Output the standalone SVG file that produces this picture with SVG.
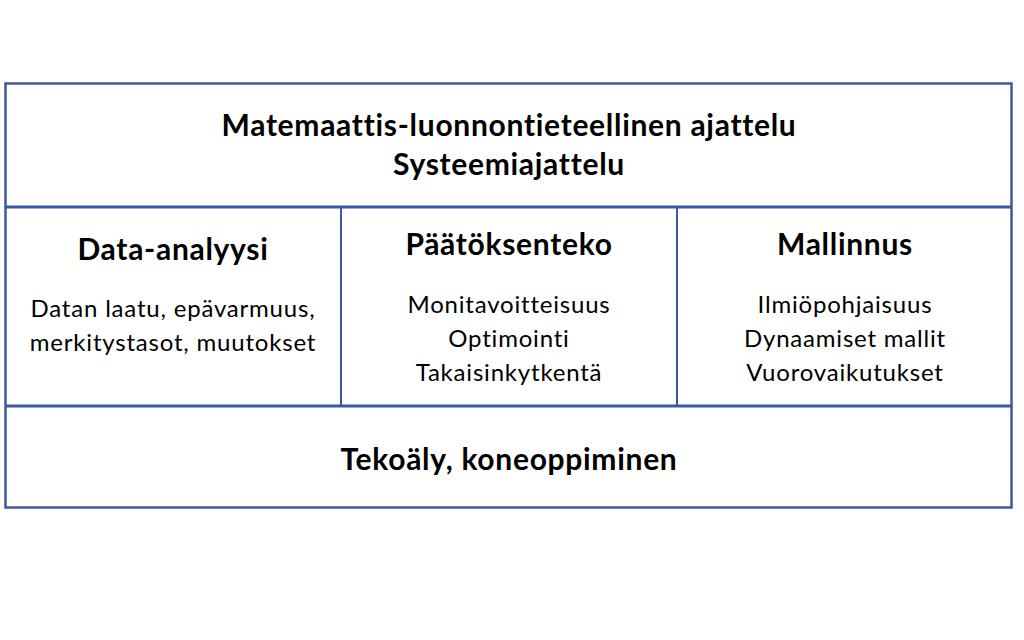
<svg xmlns="http://www.w3.org/2000/svg" width="1024" height="640" viewBox="0 0 1024 640">
<style>
.ln{stroke:#3A5A9E;fill:none}
.t{font-family:Lato,"Open Sans","Liberation Sans",sans-serif;fill:#000;text-anchor:middle}
.b{font-weight:bold;font-size:30px;letter-spacing:0.7px}
.r{font-size:24px;letter-spacing:0.8px}
</style>
<rect width="1024" height="640" fill="#fff"/>
<g id="connectors">
<rect class="ln" x="5.5" y="83.5" width="1006" height="424" stroke-width="2.5"/>
<line class="ln" x1="5" y1="207" x2="1012" y2="207" stroke-width="3"/>
<line class="ln" x1="5" y1="406" x2="1012" y2="406" stroke-width="3"/>
<line class="ln" x1="341" y1="207" x2="341" y2="406" stroke-width="2"/>
<line class="ln" x1="677" y1="207" x2="677" y2="406" stroke-width="2"/>
</g>
<g id="top">
<text class="t b" x="509" y="136">Matemaattis-luonnontieteellinen ajattelu</text>
<text class="t b" x="509" y="175">Systeemiajattelu</text>
</g>
<g id="data">
<text class="t b" x="173" y="260">Data-analyysi</text>
<text class="t r" x="173" y="317">Datan laatu, epävarmuus,</text>
<text class="t r" x="173" y="351">merkitystasot, muutokset</text>
</g>
<g id="paatos">
<text class="t b" x="509" y="255">Päätöksenteko</text>
<text class="t r" x="509" y="313">Monitavoitteisuus</text>
<text class="t r" x="509" y="347">Optimointi</text>
<text class="t r" x="509" y="381">Takaisinkytkentä</text>
</g>
<g id="mallinnus">
<text class="t b" x="845" y="255">Mallinnus</text>
<text class="t r" x="845" y="313">Ilmiöpohjaisuus</text>
<text class="t r" x="845" y="347">Dynaamiset mallit</text>
<text class="t r" x="845" y="381">Vuorovaikutukset</text>
</g>
<g id="bottom">
<text class="t b" x="509" y="470">Tekoäly, koneoppiminen</text>
</g>
</svg>
